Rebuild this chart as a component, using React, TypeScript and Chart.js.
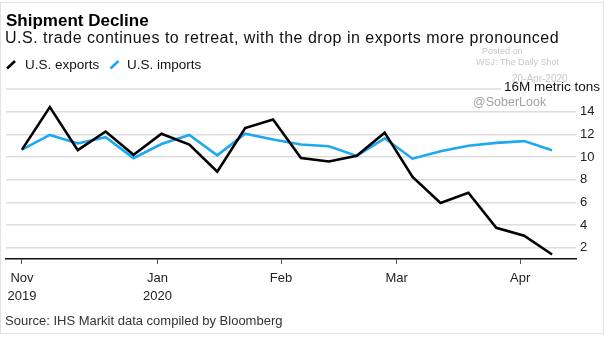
import React, { useEffect, useRef } from "react";
import { Chart, registerables } from "chart.js";

Chart.register(...registerables);

// ---- data ----
const weekDates = [
  "2019-11-28", "2019-12-05", "2019-12-12", "2019-12-19", "2019-12-26",
  "2020-01-02", "2020-01-09", "2020-01-16", "2020-01-23", "2020-01-30",
  "2020-02-06", "2020-02-13", "2020-02-20", "2020-02-27", "2020-03-05",
  "2020-03-12", "2020-03-19", "2020-03-26", "2020-04-02", "2020-04-09",
];
const exportsVals = [
  10.65, 14.4, 10.6, 12.25, 10.2, 12.05, 11.1, 8.7, 12.55, 13.3,
  9.9, 9.6, 10.1, 12.15, 8.25, 5.95, 6.85, 3.75, 3.05, 1.4,
];
const importsVals = [
  10.65, 11.95, 11.2, 11.75, 9.9, 11.15, 11.95, 10.15, 12.05, 11.55,
  11.1, 10.95, 10.1, 11.65, 9.85, 10.5, 11.0, 11.25, 11.4, 10.6,
];
const monthTickDates = ["2019-11-28", "2020-01-01", "2020-02-01", "2020-03-01", "2020-04-01"];
const monthTickLabels: (string | string[])[] = [["Nov", "2019"], ["Jan", "2020"], "Feb", "Mar", "Apr"];
const yTicks = [2, 4, 6, 8, 10, 12, 14, 16];
const unitLabel = "16M metric tons";

const FONT = '"Liberation Sans", Arial, Helvetica, sans-serif';
const BLUE = "#1DA9F2";

const dayOf = (d: string) => (Date.parse(d) - Date.parse(weekDates[0])) / 86400000;

export default function App() {
  const ref = useRef<HTMLCanvasElement | null>(null);

  useEffect(() => {
    document.body.style.margin = "0";
    const canvas = ref.current;
    if (!canvas) return;

    const overlay = {
      id: "overlay",
      afterDraw(chart: any) {
        const ctx = chart.ctx;
        const area = chart.chartArea;
        const y16 = chart.scales.y.getPixelForValue(16);
        ctx.save();
        ctx.font = `13.5px ${FONT}`;
        const w = ctx.measureText(unitLabel).width;
        const labelRight = 600;
        ctx.strokeStyle = "#dddddd";
        ctx.lineWidth = 1.5;
        ctx.beginPath();
        ctx.moveTo(area.left, y16);
        ctx.lineTo(labelRight - w - 3, y16);
        ctx.stroke();
        // watermark
        ctx.fillStyle = "rgba(150,150,150,0.55)";
        ctx.font = `9px ${FONT}`;
        ctx.textBaseline = "alphabetic";
        ctx.textAlign = "left";
        ctx.fillText("Posted on", 482, 54);
        ctx.fillText("WSJ: The Daily Shot", 476, 65);
        ctx.font = `10px ${FONT}`;
        ctx.fillText("20-Apr-2020", 512, 82);
        ctx.fillStyle = "rgba(140,140,140,0.8)";
        ctx.font = `12.5px ${FONT}`;
        ctx.fillText("@SoberLook", 473, 106);
        ctx.fillStyle = "#111";
        ctx.font = `13.5px ${FONT}`;
        ctx.textAlign = "right";
        ctx.fillText(unitLabel, labelRight, 91);
        ctx.restore();
      },
    };

    const chart = new Chart(canvas, {
      type: "line",
      data: {
        datasets: [
          {
            label: "U.S. exports",
            data: weekDates.map((d, i) => ({ x: dayOf(d), y: exportsVals[i] })),
            borderColor: "#000000",
            borderWidth: 2.6,
            pointRadius: 0,
            tension: 0,
          },
          {
            label: "U.S. imports",
            data: weekDates.map((d, i) => ({ x: dayOf(d), y: importsVals[i] })),
            borderColor: BLUE,
            borderWidth: 2.6,
            pointRadius: 0,
            tension: 0,
          },
        ],
      },
      options: {
        responsive: false,
        animation: false,
        layout: { padding: { left: 6, top: 89, right: 0, bottom: 0 } },
        plugins: { legend: { display: false }, tooltip: { enabled: false } },
        scales: {
          x: {
            type: "linear",
            min: -4,
            max: 139,
            afterBuildTicks: (s: any) => {
              s.ticks = monthTickDates.map((d) => ({ value: dayOf(d) }));
            },
            afterFit: (s: any) => {
              s.height = 82;
            },
            grid: { drawOnChartArea: false, drawTicks: true, tickLength: 5, color: "#555", lineWidth: 1 },
            border: { display: true, color: "#111", width: 1.5 },
            ticks: {
              padding: 5,
              autoSkip: false,
              maxRotation: 0,
              color: "#222",
              font: { family: FONT, size: 13, lineHeight: 1.4 },
              callback: (_v: any, i: number) => monthTickLabels[i],
            },
          },
          y: {
            position: "right",
            min: 1,
            max: 16,
            afterBuildTicks: (s: any) => {
              s.ticks = yTicks.map((v) => ({ value: v }));
            },
            afterFit: (s: any) => {
              s.width = 29;
            },
            grid: {
              drawTicks: false,
              lineWidth: 1.5,
              color: (c: any) => (c.tick && c.tick.value === 16 ? "rgba(0,0,0,0)" : "#dddddd"),
            },
            border: { display: false },
            ticks: {
              padding: 4,
              color: "#222",
              font: { family: FONT, size: 13 },
              callback: (v: any) => (v === 16 ? "" : String(v)),
            },
          },
        },
      },
      plugins: [overlay],
    } as any);

    return () => chart.destroy();
  }, []);

  const text = (extra: React.CSSProperties): React.CSSProperties => ({
    position: "absolute",
    margin: 0,
    whiteSpace: "nowrap",
    lineHeight: 1,
    fontFamily: FONT,
    ...extra,
  });

  return (
    <div
      style={{
        position: "absolute",
        left: 0,
        top: 0,
        width: 605,
        height: 341,
        background: "#fff",
        overflow: "hidden",
      }}
    >
      <div
        style={{
          position: "absolute",
          left: 0,
          top: 2,
          width: 602,
          height: 330,
          border: "1px solid #e2e2e2",
        }}
      />
      <canvas ref={ref} width={605} height={341} style={{ position: "absolute", left: 0, top: 0 }} />
      <div style={text({ left: 6, top: 11.5, fontSize: 17, fontWeight: "bold", color: "#000" })}>
        Shipment Decline
      </div>
      <div style={text({ left: 5, top: 30, fontSize: 16, letterSpacing: 0.5, color: "#111" })}>
        U.S. trade continues to retreat, with the drop in exports more pronounced
      </div>
      <svg style={{ position: "absolute", left: 0, top: 55 }} width={130} height={20}>
        <line x1={7} y1={13.5} x2={15} y2={6} stroke="#000" strokeWidth={2.6} />
        <line x1={110.5} y1={13.5} x2={118.5} y2={6} stroke={BLUE} strokeWidth={2.6} />
      </svg>
      <div style={text({ left: 25, top: 58, fontSize: 13.5, color: "#111" })}>U.S. exports</div>
      <div style={text({ left: 127, top: 58, fontSize: 13.5, color: "#111" })}>U.S. imports</div>
      <div style={text({ left: 5, top: 314, fontSize: 13, color: "#333" })}>
        Source: IHS Markit data compiled by Bloomberg
      </div>
    </div>
  );
}
